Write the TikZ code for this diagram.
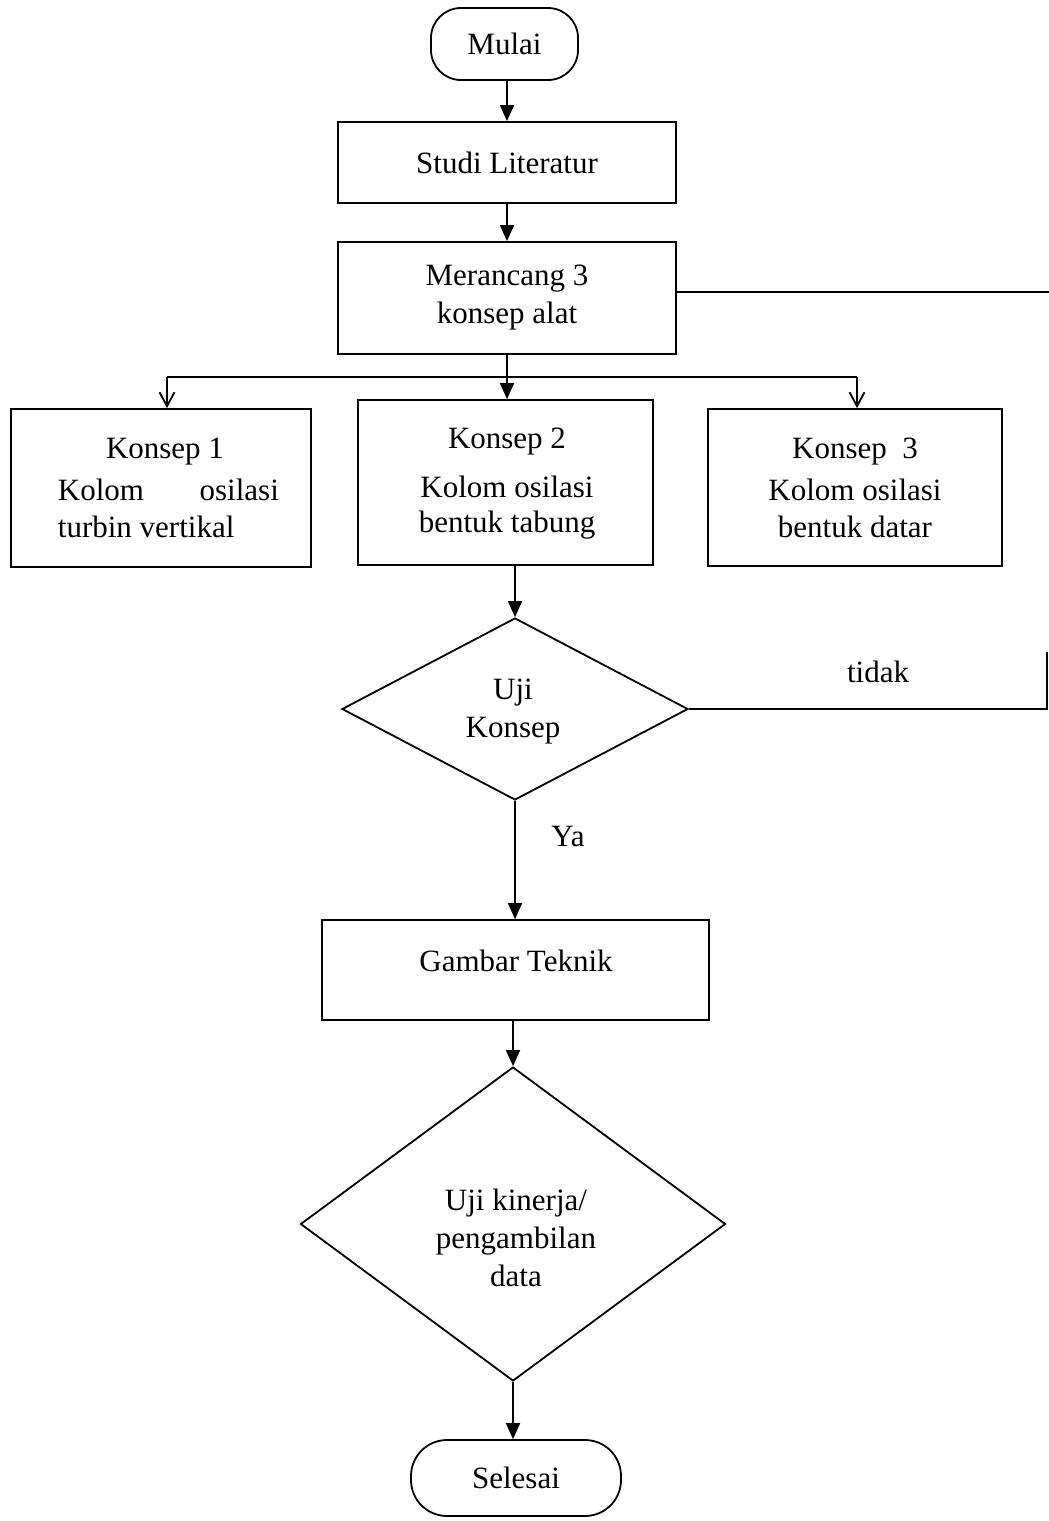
\documentclass[tikz,border=0pt]{standalone}
\usepackage{fontspec}
\setmainfont{Liberation Serif}
\usetikzlibrary{arrows.meta,shapes.geometric}
\begin{document}
\begin{tikzpicture}[x=1pt,y=-1pt,
  font=\fontsize{31}{38}\selectfont,
  line width=1.8pt,
  box/.style={draw, rectangle, inner sep=0pt},
  term/.style={draw, rectangle, rounded corners=30pt, inner sep=0pt},
  dec/.style={draw, diamond, inner sep=0pt},
  lbl/.style={inner sep=0pt, align=center},
  arr/.style={-{Triangle[length=16pt,width=14pt]}},
  oarr/.style={-{Straight Barb[length=14pt,width=15pt]}}]
\useasboundingbox (0,0) rectangle (1049,1521);
% nodes
\node[term, minimum width=147pt, minimum height=72pt] (mulai) at (504.5,44) {Mulai};
\node[box, minimum width=338pt, minimum height=81pt] (studi) at (507,162.5) {Studi Literatur};
\node[box, minimum width=338pt, minimum height=112pt, align=center] (mer) at (507,298) {Merancang 3\\konsep alat};
\node[box, minimum width=300pt, minimum height=158pt] (k1) at (161,488) {};
\node[box, minimum width=295pt, minimum height=165pt] (k2) at (505.5,482.5) {};
\node[box, minimum width=294pt, minimum height=157pt] (k3) at (855,487.5) {};
\node[dec, minimum width=346pt, minimum height=182pt] (d1) at (515,709) {};
\node[box, minimum width=387pt, minimum height=100pt] (gt) at (515.5,970) {};
\node[dec, minimum width=425pt, minimum height=314pt] (d2) at (513,1224) {};
\node[term, rounded corners=36pt, minimum width=210pt, minimum height=76pt] (sel) at (516,1478) {Selesai};
% texts
\node[lbl] (t1a) at (165,452) {Konsep 1};
\node[lbl, anchor=west] (t1b) at (57,490) {\makebox[221pt][s]{Kolom\hfill osilasi}};
\node[lbl, anchor=west] (t1c) at (57,527) {turbin vertikal};
\node[lbl] (t2a) at (507,442) {Konsep 2};
\node[lbl] (t2b) at (507,487) {Kolom osilasi};
\node[lbl] (t2c) at (507,525) {bentuk tabung};
\node[lbl] (t3a) at (855,452) {Konsep\ \ 3};
\node[lbl] (t3b) at (855,490) {Kolom osilasi};
\node[lbl] (t3c) at (855,527) {bentuk datar};
\node[lbl] (td1) at (513,712) {Uji\\Konsep};
\node[lbl] (tgt) at (516,961) {Gambar Teknik};
\node[lbl] (td2) at (516,1238) {Uji kinerja/\\pengambilan\\data};
\node[lbl] (ya) at (568,836) {Ya};
\node[lbl] (tidak) at (878,672) {tidak};
% coordinates
\coordinate (br) at (507,377);
\coordinate (bl) at (167,377);
\coordinate (brr) at (857,377);
\coordinate (fr) at (1049,292);
\coordinate (fb) at (1047,652);
% connectors
\draw[arr] (mulai.south -| studi.north) -- (studi.north);
\draw[arr] (studi.south) -- (mer.north);
\draw (mer.south) -- (br);
\draw (bl) -- (brr);
\draw[arr] (br) -- (br |- k2.north);
\draw[oarr] (bl) -- (bl |- k1.north);
\draw[oarr] (brr) -- (brr |- k3.north);
\draw[arr] (k2.south -| d1.north) -- (d1.north);
\draw (fr -| mer.east) -- (fr);
\draw (d1.east) -| (fb);
\draw[arr] (d1.south) -- (d1.south |- gt.north);
\draw[arr] (d2.north |- gt.south) -- (d2.north);
\draw[arr] (d2.south) -- (d2.south |- sel.north);
\end{tikzpicture}
\end{document}
